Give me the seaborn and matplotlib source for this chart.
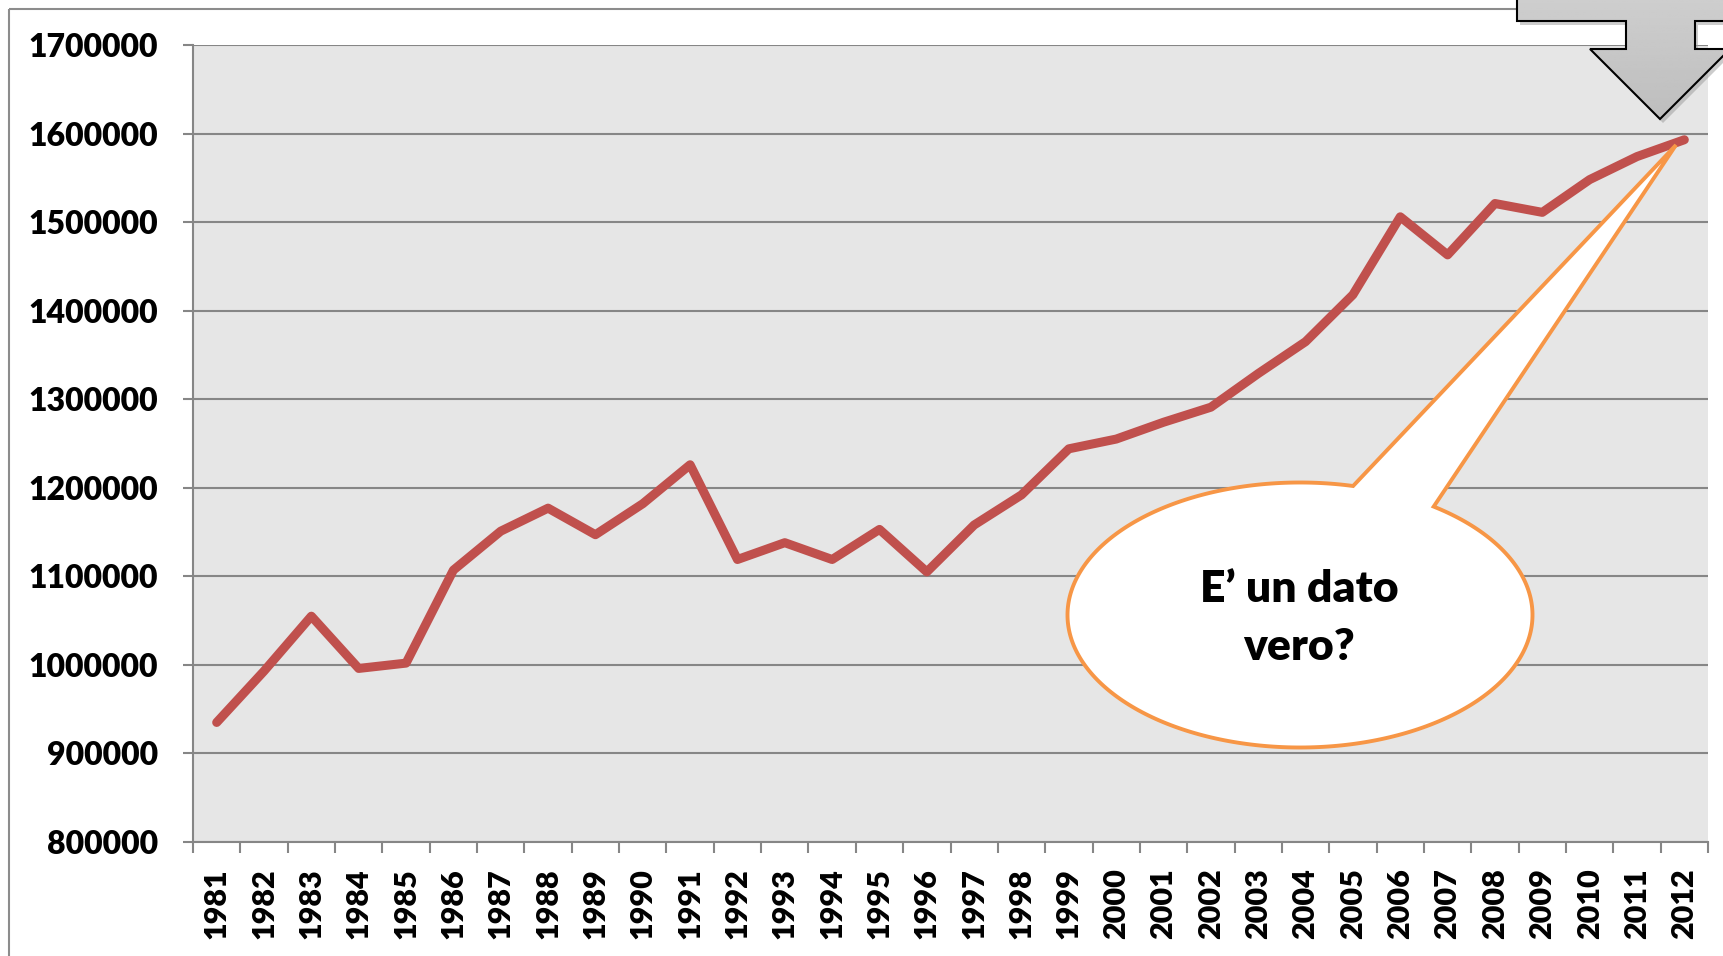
import numpy as np
import seaborn as sns
import matplotlib.pyplot as plt
from matplotlib.patches import Polygon, Rectangle
from matplotlib.ticker import FixedLocator, StrMethodFormatter

# data
years = list(range(1981, 2013))
values = [935000, 993000, 1055000, 996000, 1002000, 1107000, 1151000, 1177000,
          1147000, 1182000, 1226000, 1119000, 1138000, 1119000, 1153000, 1105000,
          1158000, 1192000, 1244000, 1255000, 1274000, 1291000, 1329000, 1365000,
          1418000, 1506000, 1463000, 1521000, 1511000, 1548000, 1574000, 1593000]
y_ticks = list(range(800000, 1700001, 100000))
callout_lines = ["E\u2019 un dato", "vero?"]

W, H = 1723, 956
plt.rcParams['font.family'] = ['Lato', 'DejaVu Sans']
WEIGHT = 'heavy'

fig = plt.figure(figsize=(W / 100, H / 100), dpi=100)
fig.patch.set_facecolor('white')
ax = fig.add_axes([193 / W, 1 - 842 / H, (1708 - 193) / W, (842 - 45) / H])
ax.set_facecolor('#E6E6E6')

grid_c = '#868686'
sns.lineplot(x=years, y=values, ax=ax, color='#C0504D', linewidth=6.5,
             solid_capstyle='round', zorder=3)

ax.set_xlim(1980.5, 2012.5)
ax.set_ylim(800000, 1700000)
ax.set_yticks(y_ticks)
ax.yaxis.set_major_formatter(StrMethodFormatter('{x:.0f}'))
ax.grid(axis='y', color=grid_c, linewidth=1.5)
ax.set_axisbelow(True)

# ticks between categories, labels on categories
ax.xaxis.set_major_locator(FixedLocator(np.arange(1980.5, 2013, 1)))
ax.xaxis.set_minor_locator(FixedLocator(years))
ax.set_xticklabels([], minor=False)
ax.set_xticklabels([str(y) for y in years], minor=True, rotation=90,
                   fontsize=22, fontweight=WEIGHT)
ax.tick_params(axis='x', which='major', length=8, width=1.5, color=grid_c)
ax.tick_params(axis='x', which='minor', length=0, pad=19)
ax.tick_params(axis='y', length=7, width=1.5, color=grid_c, pad=18, labelsize=23)
for t in ax.get_yticklabels():
    t.set_fontweight(WEIGHT)

for s in ['top', 'right']:
    ax.spines[s].set_visible(False)
for s in ['left', 'bottom']:
    ax.spines[s].set_color(grid_c)
    ax.spines[s].set_linewidth(1.5)
ax.set_xlabel('')
ax.set_ylabel('')

# overlay in pixel coordinates for the decorations
ov = fig.add_axes([0, 0, 1, 1], zorder=5)
ov.set_xlim(0, W)
ov.set_ylim(H, 0)
ov.axis('off')

# outer frame
ov.add_patch(Rectangle((9, 9), 2000, 2000, fill=False, edgecolor='#8C8C8C', linewidth=1.5))

# speech bubble
cx, cy, a, b = 1300, 615, 232.5, 132.5
t = np.radians(np.linspace(-54.9, 283.2, 300))
pts = list(zip(cx + a * np.cos(t), cy + b * np.sin(t)))
pts.append((1676, 145))
ov.add_patch(Polygon(pts, closed=True, facecolor='white', edgecolor='#F79646',
                     linewidth=2.8, joinstyle='miter'))
ov.text(1299, 602, callout_lines[0], ha='center', va='baseline', fontsize=32,
        fontweight=WEIGHT, color='black')
ov.text(1299, 660, callout_lines[1], ha='center', va='baseline', fontsize=32,
        fontweight=WEIGHT, color='black')

# down-arrow callout at the top right
arrow = [(1517, -60), (1517, 21), (1626, 21), (1626, 49), (1590, 49), (1660, 119),
         (1730, 49), (1695, 49), (1695, 21), (1803, 21), (1803, -60)]
shadow = [(x + 3, y + 4) for x, y in arrow]
ov.add_patch(Polygon(shadow, closed=True, facecolor='#9A9A9A', edgecolor='none', alpha=0.5))
arr = Polygon(arrow, closed=True, facecolor='none', edgecolor='black', linewidth=1.5, zorder=3)
grad = np.linspace(0.84, 0.74, 100).reshape(-1, 1)
im = ov.imshow(grad, cmap='gray', vmin=0, vmax=1, extent=(1500, 1810, 125, -60),
               aspect='auto', zorder=2)
im.set_clip_path(Polygon(arrow, closed=True, transform=ov.transData))
ov.add_patch(arr)
ov.set_xlim(0, W)
ov.set_ylim(H, 0)

fig.savefig('out.png', dpi=100)
